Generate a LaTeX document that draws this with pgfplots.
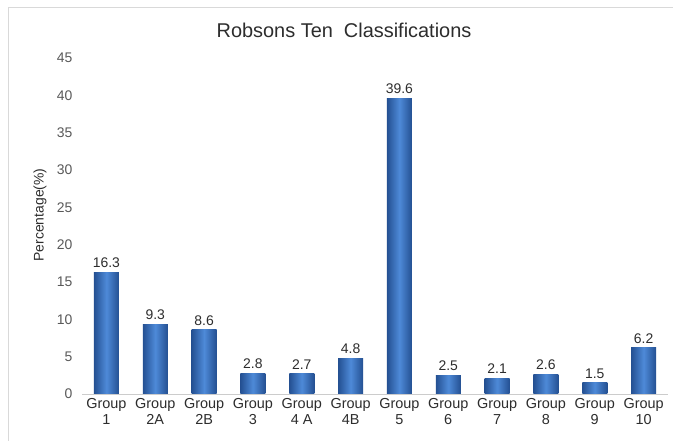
\documentclass[border=0pt]{standalone}
\usepackage{pgfplots}
\pgfplotsset{compat=1.18}
\usepackage{fontspec}
\setmainfont{Liberation Sans}
\definecolor{bardark}{RGB}{36,80,146}
\definecolor{barmid}{RGB}{78,138,216}
\definecolor{tickgray}{RGB}{89,89,89}
\definecolor{txtdark}{RGB}{45,45,45}
\pgfplotsset{robbar/.style={ybar, bar width=25bp, bar shift=0pt, draw=none,
  left color=bardark, right color=bardark, middle color=barmid,
  nodes near coords, point meta=explicit symbolic,
  every node near coord/.append style={font=\fontsize{14}{16}\selectfont, text=txtdark, yshift=1bp}}}
\begin{document}
\begin{tikzpicture}[x=1bp,y=1bp]
\fill[white] (0,0) rectangle (673,441);
\useasboundingbox (0,0) rectangle (673,441);
\draw[black!15] (8,0) -- (8,434) -- (673,434);
\begin{axis}[
  at={(82bp,47bp)}, anchor=south west,
  scale only axis, width=586bp, height=336bp,
  xmin=-0.5, xmax=11.5, ymin=0, ymax=45,
  ytick={0,5,...,45},
  xtick={0,...,11},
  xticklabels={{Group\\1},{Group\\2A},{Group\\2B},{Group\\3},{Group\\4 A},{Group\\4B},{Group\\5},{Group\\6},{Group\\7},{Group\\8},{Group\\9},{Group\\10}},
  xticklabel style={align=center, font=\fontsize{14.5}{16.5}\selectfont, text=txtdark, inner sep=1bp, yshift=-3bp},
  yticklabel style={font=\fontsize{14}{16}\selectfont, text=tickgray, xshift=-6bp},
  /pgf/number format/assume math mode=true,
  axis lines*=left,
  y axis line style={draw=none},
  x axis line style={draw=black!20, line width=0.8pt},
  major tick length=0pt,
  clip=false,
]
\addplot[robbar] coordinates {(0,16.3)[16.3]};
\addplot[robbar] coordinates {(1,9.3)[9.3]};
\addplot[robbar] coordinates {(2,8.6)[8.6]};
\addplot[robbar] coordinates {(3,2.8)[2.8]};
\addplot[robbar] coordinates {(4,2.7)[2.7]};
\addplot[robbar] coordinates {(5,4.8)[4.8]};
\addplot[robbar] coordinates {(6,39.6)[39.6]};
\addplot[robbar] coordinates {(7,2.5)[2.5]};
\addplot[robbar] coordinates {(8,2.1)[2.1]};
\addplot[robbar] coordinates {(9,2.6)[2.6]};
\addplot[robbar] coordinates {(10,1.5)[1.5]};
\addplot[robbar] coordinates {(11,6.2)[6.2]};
\end{axis}
\node[font=\fontsize{20}{22}\selectfont, text=txtdark] at (344,411) {Robsons Ten \ Classifications};
\node[rotate=90, font=\fontsize{14}{16}\selectfont, text=txtdark] at (40,226) {Percentage(\%)};
\end{tikzpicture}
\end{document}
